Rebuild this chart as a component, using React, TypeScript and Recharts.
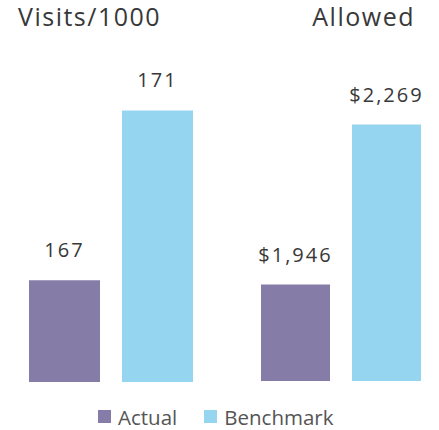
import React from 'react';
import { BarChart, Bar, XAxis, YAxis, LabelList } from 'recharts';

// two panels, same two series
const categories = ['Visits/1000', 'Allowed'];
const actualValues = [167, 1946];
const benchmarkValues = [171, 2269];
const seriesNames = ['Actual', 'Benchmark'];
const seriesColors = ['#857ca8', '#95d5f0'];

const FONT = '"Open Sans", "Noto Sans", sans-serif';

const panels = [
  {
    left: 0,
    margin: { top: 60, right: 18, bottom: 48, left: 20 },
    domain: [164.6, 172.19],
    barSize: 71,
    format: (v: number) => `${v}`,
  },
  {
    left: 219,
    margin: { top: 60, right: 6, bottom: 49, left: 30 },
    domain: [1751.5, 2399.3],
    barSize: 69,
    format: (v: number) => `$${v.toLocaleString('en-US')}`,
  },
];

const Panel = ({ index }: { index: number }) => {
  const p = panels[index];
  const data = [
    { name: categories[index], actual: actualValues[index], benchmark: benchmarkValues[index] },
  ];
  const labelStyle = { fontFamily: FONT, fontSize: 20, fill: '#383838', letterSpacing: 2 };
  return (
    <div style={{ position: 'absolute', left: p.left, top: 0 }}>
      <BarChart width={220} height={430} data={data} margin={p.margin} barGap={22}>
        <XAxis dataKey="name" hide />
        <YAxis hide domain={p.domain} allowDataOverflow />
        <Bar dataKey="actual" name={seriesNames[0]} fill={seriesColors[0]} barSize={p.barSize} isAnimationActive={false}>
          <LabelList dataKey="actual" position="top" offset={23} formatter={p.format} style={labelStyle} />
        </Bar>
        <Bar dataKey="benchmark" name={seriesNames[1]} fill={seriesColors[1]} barSize={p.barSize} isAnimationActive={false}>
          <LabelList dataKey="benchmark" position="top" offset={23} formatter={p.format} style={labelStyle} />
        </Bar>
      </BarChart>
    </div>
  );
};

export default function App() {
  return (
    <div style={{ position: 'absolute', left: 0, top: 0, width: 439, height: 430, background: '#fff' }}>
      <Panel index={0} />
      <Panel index={1} />
      <svg width={439} height={60} style={{ position: 'absolute', left: 0, top: 0 }}>
        <text x={18} y={26} fontFamily={FONT} fontSize={25} fill="#383838" letterSpacing={1.5}>
          {categories[0]}
        </text>
        <text x={415} y={26} textAnchor="end" fontFamily={FONT} fontSize={25} fill="#383838" letterSpacing={1.5}>
          {categories[1]}
        </text>
      </svg>
      <div
        style={{
          position: 'absolute',
          left: 98,
          top: 406.5,
          display: 'flex',
          alignItems: 'center',
          fontFamily: FONT,
          fontSize: 20.5,
          lineHeight: '20px',
          color: '#555',
        }}
      >
        {seriesNames.map((s, i) => (
          <div key={s} style={{ display: 'flex', alignItems: 'center', marginRight: 27 }}>
            <span style={{ width: 13, height: 13, background: seriesColors[i], display: 'inline-block' }} />
            <span style={{ marginLeft: 7 }}>{s}</span>
          </div>
        ))}
      </div>
    </div>
  );
}
